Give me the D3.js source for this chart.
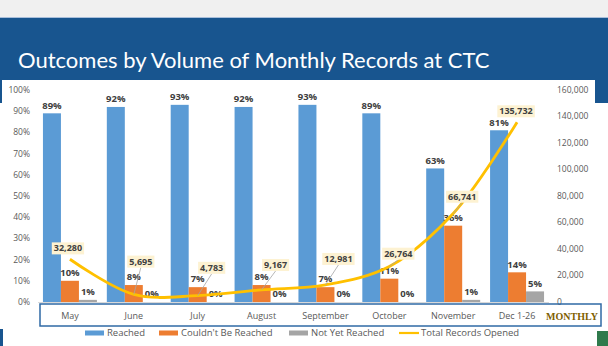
<!DOCTYPE html>
<html>
<head>
<meta charset="utf-8">
<script src="https://cdn.jsdelivr.net/npm/d3@7"></script>
<style>
  body { margin: 0; background: #fff; }
  svg { display: block; }
  text { font-family: "Open Sans", "Liberation Sans", sans-serif; }
</style>
</head>
<body>
<svg id="chart" width="608" height="346"></svg>
<script>
// Data
const months = ["May", "June", "July", "August", "September", "October", "November", "Dec 1-26"];
const reached = [89, 92, 93, 92, 93, 89, 63, 81];
const couldntReach = [10, 8, 7, 8, 7, 11, 36, 14];
const notYetReached = [1, 0, 0, 0, 0, 0, 1, 5];
const totalRecords = [32280, 5695, 4783, 9167, 12981, 26764, 66741, 135732];
const pctTicks = [0, 10, 20, 30, 40, 50, 60, 70, 80, 90, 100];
const countTicks = [0, 20000, 40000, 60000, 80000, 100000, 120000, 140000, 160000];
// where each "Total Records" callout sits, relative to its point
const calloutOffsets = [[-2, -11], [7, -33], [14, -28], [14, -25], [13, -26], [9, -13], [9, -17], [-1, -11]];

const seriesKeys = ["Reached", "Couldn't Be Reached", "Not Yet Reached"];
const seriesVals = [reached, couldntReach, notYetReached];
const colors = ["#5b9bd5", "#ed7d31", "#a5a5a5"];
const lineColor = "#ffc000";

const svg = d3.select("#chart");
const W = 608, H = 346;

// slide background
svg.append("rect").attr("width", W).attr("height", H).attr("fill", "#fff");
svg.append("rect").attr("width", W).attr("height", 18).attr("fill", "#f0f0f0");
svg.append("rect").attr("y", 17).attr("width", W).attr("height", 1).attr("fill", "#a9bfdb");
svg.append("rect").attr("y", 18).attr("width", W).attr("height", 85).attr("fill", "#18558f");
svg.append("text").attr("x", 18).attr("y", 68)
   .attr("fill", "#fff").style("font-family", "Lato, 'Open Sans', sans-serif")
   .style("font-size", "22px").text("Outcomes by Volume of Monthly Records at CTC");

// pasted chart picture area
svg.append("rect").attr("x", 2).attr("y", 80).attr("width", 593).attr("height", 266).attr("fill", "#fff");
svg.append("rect").attr("x", 0).attr("y", 329).attr("width", 3).attr("height", 17).attr("fill", "#18558f");
svg.append("rect").attr("x", 597).attr("y", 331).attr("width", 11).attr("height", 15).attr("fill", "#2f7a4c");

const x = d3.scaleBand().domain(months).range([38, 549]);
const bw = x.bandwidth();
const groupW = bw * 0.845;
const xs = d3.scaleBand().domain(seriesKeys).range([(bw - groupW) / 2, (bw + groupW) / 2]);
const yP = d3.scaleLinear().domain([0, 100]).range([302, 90]);
const yC = d3.scaleLinear().domain([0, 160000]).range([302, 90]);

// axes labels (no axis lines, Excel style)
const axisG = svg.append("g").style("font-size", "8.5px");
axisG.selectAll(".lt").data(pctTicks).join("text")
   .attr("x", 30).attr("y", d => yP(d)).attr("dy", "0.35em").attr("text-anchor", "end")
   .attr("fill", "#595959").text(d => d + "%");
axisG.selectAll(".rt").data(countTicks).join("text")
   .attr("x", 557).attr("y", d => yC(d)).attr("dy", "0.35em")
   .attr("fill", "#595959").text(d => d3.format(",")(d));

svg.append("line").attr("x1", 38).attr("x2", 549).attr("y1", 302.5).attr("y2", 302.5)
   .attr("stroke", "#d9d9d9").attr("stroke-width", 1);

// bars
const groups = svg.selectAll(".grp").data(months).join("g")
   .attr("transform", d => `translate(${x(d)},0)`);
seriesKeys.forEach((k, si) => {
  groups.append("rect")
    .attr("x", xs(k)).attr("width", xs.bandwidth())
    .attr("y", (d, i) => yP(seriesVals[si][i]))
    .attr("height", (d, i) => yP(0) - yP(seriesVals[si][i]))
    .attr("fill", colors[si]);
});

// total records line
const pts = months.map((m, i) => [x(m) + bw / 2, yC(totalRecords[i])]);
svg.append("path").datum(pts)
   .attr("fill", "none").attr("stroke", lineColor).attr("stroke-width", 2.8)
   .attr("d", d3.line().curve(d3.curveCatmullRom.alpha(0.5)));

// bar labels
seriesKeys.forEach((k, si) => {
  groups.append("text")
    .attr("x", xs(k) + xs.bandwidth() / 2)
    .attr("y", (d, i) => yP(seriesVals[si][i]) - 8)
    .attr("dy", "0.35em").attr("text-anchor", "middle")
    .style("font-size", "9.5px").style("font-weight", "bold").attr("fill", "#404040")
    .text((d, i) => seriesVals[si][i] + "%");
});

// callouts for the line
pts.forEach((p, i) => {
  const [dx, dy] = calloutOffsets[i];
  const cx = p[0] + dx, cy = p[1] + dy;
  const g = svg.append("g");
  const t = g.append("text").attr("x", cx).attr("y", cy).attr("dy", "0.35em")
    .attr("text-anchor", "middle").style("font-size", "9px").style("font-weight", "bold")
    .attr("fill", "#404040").text(d3.format(",")(totalRecords[i]));
  const bb = t.node().getBBox();
  if (p[1] - (bb.y + bb.height) > 6) {
    g.insert("line", "text").attr("x1", cx).attr("y1", bb.y + bb.height)
      .attr("x2", p[0]).attr("y2", p[1])
      .attr("stroke", "#a6a6a6").attr("stroke-width", 0.8);
  }
  g.insert("rect", "text").attr("x", bb.x - 2).attr("y", bb.y + 1)
    .attr("width", bb.width + 4).attr("height", bb.height - 1).attr("fill", "#fdf2d2");
});

// month axis box
svg.append("rect").attr("x", 40).attr("y", 304).attr("width", 561).attr("height", 22)
   .attr("fill", "none").attr("stroke", "#2f6aa5").attr("stroke-width", 1.5);
svg.selectAll(".ml").data(months).join("text")
   .attr("x", d => x(d) + bw / 2).attr("y", 316).attr("dy", "0.35em").attr("text-anchor", "middle")
   .style("font-size", "9px").attr("fill", "#595959").text(d => d);
svg.append("text").attr("x", 572).attr("y", 316).attr("dy", "0.35em").attr("text-anchor", "middle")
   .style("font-family", "'Liberation Serif', serif").style("font-size", "10px").style("font-weight", "bold")
   .attr("fill", "#7f6000").text("MONTHLY");

// legend
const legItems = [
  { name: "Reached", color: colors[0], x: 85, type: "rect" },
  { name: "Couldn't Be Reached", color: colors[1], x: 159, type: "rect" },
  { name: "Not Yet Reached", color: colors[2], x: 289, type: "rect" },
  { name: "Total Records Opened", color: lineColor, x: 399, type: "line" }
];
const leg = svg.append("g");
legItems.forEach(d => {
  if (d.type === "rect") {
    leg.append("rect").attr("x", d.x).attr("y", 330.5).attr("width", 19).attr("height", 5).attr("fill", d.color);
  } else {
    leg.append("line").attr("x1", d.x).attr("x2", d.x + 20).attr("y1", 333).attr("y2", 333)
      .attr("stroke", d.color).attr("stroke-width", 2.2);
  }
  leg.append("text").attr("x", d.x + 22).attr("y", 333).attr("dy", "0.35em")
    .style("font-size", "9.5px").attr("fill", "#595959").text(d.name);
});
</script>
</body>
</html>
